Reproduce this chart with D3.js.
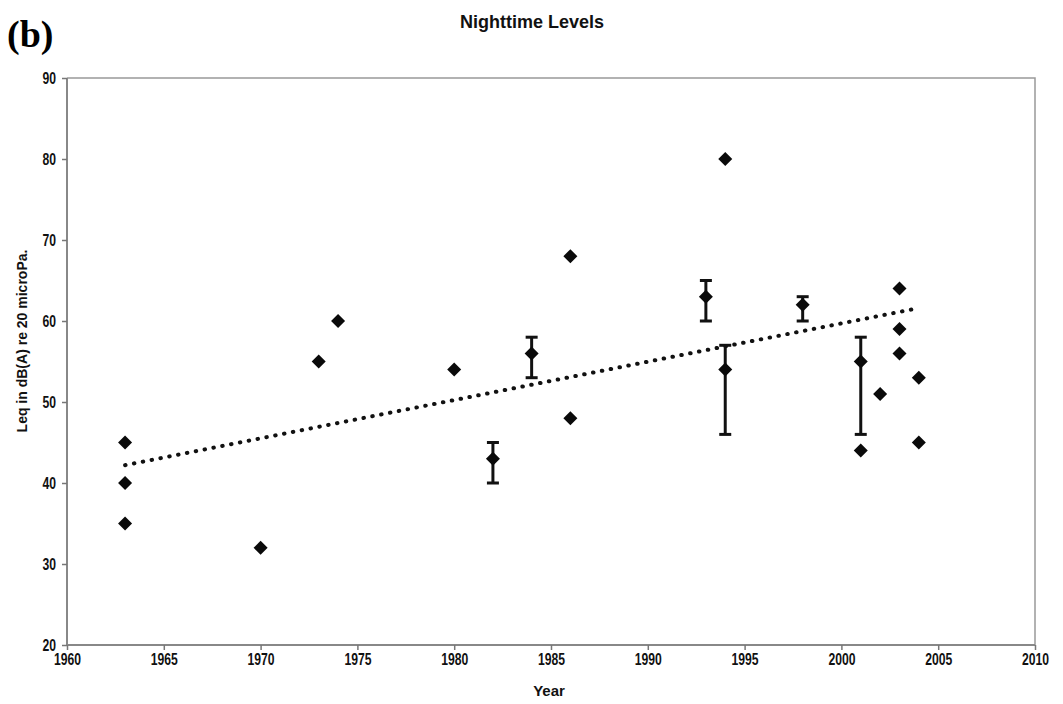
<!DOCTYPE html>
<html>
<head>
<meta charset="utf-8">
<script src="https://cdn.jsdelivr.net/npm/d3@7"></script>
<style>
  body { margin: 0; background: #fff; }
</style>
</head>
<body>
<div id="chart"></div>
<script>
var years  = [1963, 1963, 1963, 1970, 1973, 1974, 1980, 1982, 1984, 1986, 1986, 1993, 1994, 1994, 1998, 2001, 2001, 2002, 2003, 2003, 2003, 2004, 2004];
var levels = [45,   40,   35,   32,   55,   60,   54,   43,   56,   68,   48,   63,   80,   54,   62,   55,   44,   51,   64,   59,   56,   53,   45];

// error bars: year, low, high
var errYears = [1982, 1984, 1993, 1994, 1998, 2001];
var errLow   = [40,   53,   60,   46,   60,   46];
var errHigh  = [45,   58,   65,   57,   63,   58];

// linear trendline end points
var trendYears  = [1963, 2004];
var trendLevels = [42.2, 61.6];

var xTicks = [1960, 1965, 1970, 1975, 1980, 1985, 1990, 1995, 2000, 2005, 2010];
var yTicks = [20, 30, 40, 50, 60, 70, 80, 90];

var svgWidth = 1063;
var svgHeight = 704;

var margin = { top: 78, right: 28, bottom: 59, left: 67 };
var width = svgWidth - margin.left - margin.right;
var height = svgHeight - margin.top - margin.bottom;

var svg = d3.select("#chart")
  .append("svg")
  .attr("width", svgWidth)
  .attr("height", svgHeight);

var chartGroup = svg.append("g")
  .attr("transform", `translate(${margin.left}, ${margin.top})`);

var x = d3.scaleLinear().domain([1960, 2010]).range([0, width]);
var y = d3.scaleLinear().domain([20, 90]).range([height, 0]);

// plot frame (top and right)
chartGroup.append("path")
  .attr("d", `M0,0H${width}V${height}`)
  .attr("fill", "none")
  .attr("stroke", "#999")
  .attr("stroke-width", 1.5);

var bottomAxis = d3.axisBottom(x).tickValues(xTicks).tickFormat(d3.format("d")).tickSize(5).tickPadding(4);
var leftAxis = d3.axisLeft(y).tickValues(yTicks).tickSize(5).tickPadding(6);

var gx = chartGroup.append("g")
  .attr("transform", `translate(0, ${height})`)
  .call(bottomAxis);
var gy = chartGroup.append("g").call(leftAxis);

[gx, gy].forEach(function(g) {
  g.attr("font-family", "Liberation Sans, Arial, sans-serif")
    .attr("font-size", 16)
    .attr("font-weight", "bold");
  g.select(".domain").attr("stroke", "#888").attr("stroke-width", 2);
  g.selectAll(".tick line").attr("stroke", "#777").attr("stroke-width", 1.5);
  g.selectAll(".tick text").attr("fill", "#111");
});
gx.select(".domain").attr("d", `M0,0H${width}`);
gy.select(".domain").attr("d", `M0,0V${height}`);

// the original tick font is condensed
gx.selectAll(".tick text").attr("transform", "scale(0.76,1)");
gy.selectAll(".tick text").attr("x", -11 / 0.76).attr("transform", "scale(0.76,1)");

// trendline
chartGroup.append("line")
  .attr("x1", x(trendYears[0]))
  .attr("y1", y(trendLevels[0]))
  .attr("x2", x(trendYears[1]))
  .attr("y2", y(trendLevels[1]))
  .attr("stroke", "#111")
  .attr("stroke-width", 4)
  .attr("stroke-linecap", "round")
  .attr("stroke-dasharray", "0.5,8.5");

// error bars
var errData = errYears.map(function(d, i) { return { year: d, lo: errLow[i], hi: errHigh[i] }; });
var eb = chartGroup.selectAll(".err").data(errData).enter().append("g").attr("class", "err");
eb.append("line")
  .attr("x1", d => x(d.year)).attr("x2", d => x(d.year))
  .attr("y1", d => y(d.lo)).attr("y2", d => y(d.hi))
  .attr("stroke", "#111").attr("stroke-width", 3);
["lo", "hi"].forEach(function(k) {
  eb.append("line")
    .attr("x1", d => x(d.year) - 6).attr("x2", d => x(d.year) + 6)
    .attr("y1", d => y(d[k])).attr("y2", d => y(d[k]))
    .attr("stroke", "#111").attr("stroke-width", 3);
});

// diamond markers
var pts = years.map(function(d, i) { return { year: d, level: levels[i] }; });
chartGroup.selectAll(".pt").data(pts).enter()
  .append("path")
  .attr("class", "pt")
  .attr("d", "M0,-7L7,0L0,7L-7,0Z")
  .attr("transform", d => `translate(${x(d.year)}, ${y(d.level)})`)
  .attr("fill", "#0a0a0a");

// labels
svg.append("text")
  .attr("x", 7).attr("y", 47)
  .attr("font-family", "Liberation Serif, Times New Roman, serif")
  .attr("font-weight", "bold")
  .attr("font-size", 38)
  .text("(b)");

svg.append("text")
  .attr("x", 532).attr("y", 28)
  .attr("text-anchor", "middle")
  .attr("font-family", "Liberation Sans, Arial, sans-serif")
  .attr("font-weight", "bold")
  .attr("font-size", 18)
  .attr("fill", "#111")
  .text("Nighttime Levels");

svg.append("text")
  .attr("transform", `translate(27, 341) rotate(-90)`)
  .attr("text-anchor", "middle")
  .attr("font-family", "Liberation Sans, Arial, sans-serif")
  .attr("font-weight", "bold")
  .attr("font-size", 14)
  .attr("fill", "#111")
  .text("Leq in dB(A) re 20 microPa.");

svg.append("text")
  .attr("x", 549).attr("y", 696)
  .attr("text-anchor", "middle")
  .attr("font-family", "Liberation Sans, Arial, sans-serif")
  .attr("font-weight", "bold")
  .attr("font-size", 15)
  .attr("fill", "#111")
  .text("Year");
</script>
</body>
</html>
